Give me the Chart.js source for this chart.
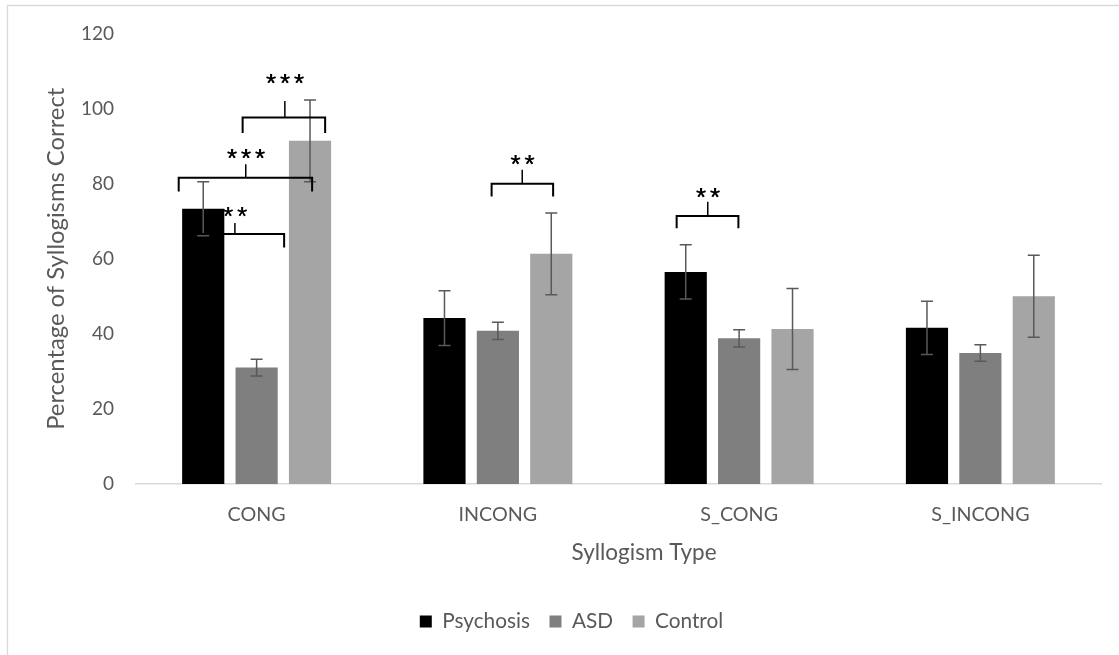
<!DOCTYPE html>
<html>
<head>
<meta charset="utf-8">
<script src="https://cdn.jsdelivr.net/npm/chart.js@4.4.1/dist/chart.umd.min.js"></script>
<style>
  html, body { margin: 0; padding: 0; background: #ffffff; }
  #wrap { position: relative; width: 1119px; height: 655px; }
</style>
</head>
<body>
<div id="wrap"><canvas id="c" width="1119" height="655"></canvas></div>
<script>
// ---- data ----
const categories = ['CONG', 'INCONG', 'S_CONG', 'S_INCONG'];
const seriesNames = ['Psychosis', 'ASD', 'Control'];
const psychosis = [73.3, 44.2, 56.5, 41.6];
const psychosisErr = [7.2, 7.3, 7.2, 7.1];
const asd = [31.0, 40.8, 38.8, 34.9];
const asdErr = [2.2, 2.3, 2.3, 2.2];
const control = [91.4, 61.3, 41.3, 50.0];
const controlErr = [10.9, 10.9, 10.8, 10.9];
const yTickValues = [0, 20, 40, 60, 80, 100, 120];
const xTitle = 'Syllogism Type';
const yTitle = 'Percentage of Syllogisms Correct';
// significance brackets: [category, leftOffset, rightOffset, stemOffset, barY, legY, stemTopY, labelY, label]
// offsets are in category-width units, y values in data units
const sigBrackets = [
  [0, -0.058, 0.284, 0.117, 97.6, 93.5, 102.0, 107.9, '***'],
  [0, -0.323, 0.230, -0.045, 81.6, 77.9, 85.2, 88.0, '***'],
  [0, -0.293, 0.114, -0.090, 66.6, 63.0, 69.5, 72.5, '**'],
  [1, -0.026, 0.229, 0.101, 80.0, 76.6, 83.7, 86.2, '**'],
  [2, -0.259, -0.003, -0.130, 71.4, 68.1, 75.2, 77.6, '**']
];

const errors = [psychosisErr, asdErr, controlErr];
const FONT = 'Lato';
const TXT = '#595959';

// pick font sizes so text widths match the reference
const mctx = document.createElement('canvas').getContext('2d');
function fitSize(text, target) {
  mctx.font = '100px ' + FONT;
  const w = mctx.measureText(text).width;
  return Math.round(100 * target / w * 10) / 10;
}
const yTitleSize = fitSize(yTitle, 342);
const xTitleSize = fitSize(xTitle, 145);
const tickSize = fitSize('120', 33);
const catSize = fitSize('S_CONG', 78);
const legendSize = fitSize('Psychosis', 88);

const frame = {
  id: 'frame',
  beforeDraw(chart) {
    const ctx = chart.ctx;
    ctx.save();
    ctx.fillStyle = '#ffffff';
    ctx.fillRect(0, 0, chart.width, chart.height);
    ctx.strokeStyle = '#d9d9d9';
    ctx.lineWidth = 1.3;
    ctx.beginPath();
    ctx.moveTo(7.5, chart.height);
    ctx.lineTo(7.5, 5.5);
    ctx.lineTo(chart.width, 5.5);
    ctx.stroke();
    ctx.restore();
  }
};

const xTitlePlugin = {
  id: 'xTitlePlugin',
  afterDraw(chart) {
    const ctx = chart.ctx;
    const xs = chart.scales.x;
    ctx.save();
    ctx.fillStyle = TXT;
    ctx.font = xTitleSize + 'px ' + FONT;
    ctx.textAlign = 'center';
    ctx.textBaseline = 'middle';
    // Excel places the axis title slightly right of the axis centre
    const cx = (xs.left + xs.right) / 2 + 0.106 * (xs.getPixelForValue(1) - xs.getPixelForValue(0));
    ctx.fillText(xTitle, cx, xs.top + 69);
    ctx.restore();
  }
};

const errBars = {
  id: 'errBars',
  afterDatasetsDraw(chart) {
    const ctx = chart.ctx;
    const y = chart.scales.y;
    ctx.save();
    ctx.strokeStyle = '#595959';
    ctx.lineWidth = 1.5;
    chart.data.datasets.forEach((ds, di) => {
      const meta = chart.getDatasetMeta(di);
      meta.data.forEach((bar, i) => {
        const v = ds.data[i], e = errors[di][i];
        const yt = y.getPixelForValue(v + e), yb = y.getPixelForValue(v - e);
        const x = bar.x;
        ctx.beginPath();
        ctx.moveTo(x, yt); ctx.lineTo(x, yb);
        ctx.moveTo(x - 6, yt); ctx.lineTo(x + 6, yt);
        ctx.moveTo(x - 6, yb); ctx.lineTo(x + 6, yb);
        ctx.stroke();
      });
    });
    ctx.restore();
  }
};

const brackets = {
  id: 'brackets',
  afterDatasetsDraw(chart) {
    const ctx = chart.ctx;
    const xs = chart.scales.x, y = chart.scales.y;
    const cw = xs.getPixelForValue(1) - xs.getPixelForValue(0);
    ctx.save();
    ctx.strokeStyle = '#000000';
    ctx.fillStyle = '#000000';
    sigBrackets.forEach(b => {
      const [cat, l, r, s, by, ly, sy, ty, lab] = b;
      const c = xs.getPixelForValue(cat);
      const xl = c + l * cw, xr = c + r * cw, xm = c + s * cw;
      const pb = y.getPixelForValue(by), pl = y.getPixelForValue(ly), ps = y.getPixelForValue(sy);
      ctx.lineWidth = 2;
      ctx.beginPath();
      ctx.moveTo(xl, pl); ctx.lineTo(xl, pb); ctx.lineTo(xr, pb); ctx.lineTo(xr, pl);
      ctx.stroke();
      ctx.lineWidth = 1.5;
      ctx.beginPath();
      ctx.moveTo(xm, pb); ctx.lineTo(xm, ps);
      ctx.stroke();
      ctx.font = '26px "Liberation Sans"';
      const m = ctx.measureText('*');
      const w = m.actualBoundingBoxRight + m.actualBoundingBoxLeft;
      const py = y.getPixelForValue(ty);
      const baseY = py + (m.actualBoundingBoxAscent - m.actualBoundingBoxDescent) / 2;
      const n = lab.length, step = 14;
      for (let k = 0; k < n; k++) {
        const cx = xm + (k - (n - 1) / 2) * step;
        ctx.fillText('*', cx - w / 2 + m.actualBoundingBoxLeft, baseY);
        ctx.fillText('*', cx - w / 2 + m.actualBoundingBoxLeft + 0.4, baseY);
      }
    });
    ctx.restore();
  }
};

const colors = ['#000000', '#7f7f7f', '#a5a5a5'];
const values = [psychosis, asd, control];

new Chart(document.getElementById('c'), {
  type: 'bar',
  data: {
    labels: categories,
    datasets: seriesNames.map((n, i) => ({
      label: n,
      data: values[i],
      backgroundColor: colors[i],
      borderWidth: 0,
      categoryPercentage: 0.664,
      barPercentage: 0.79
    }))
  },
  options: {
    responsive: false,
    animation: false,
    devicePixelRatio: 1,
    layout: { padding: { left: 42, right: 18, top: 33.5, bottom: 13 } },
    plugins: {
      tooltip: { enabled: false },
      legend: {
        position: 'bottom',
        align: 'center',
        labels: {
          boxWidth: 12,
          boxHeight: 12,
          padding: 19.5,
          color: TXT,
          font: { family: FONT, size: legendSize }
        }
      }
    },
    scales: {
      x: {
        grid: { display: false, drawTicks: false },
        border: { display: true, color: '#d9d9d9', width: 1.5 },
        ticks: { color: TXT, padding: 18.5, font: { family: FONT, size: catSize } },
        title: { display: false },
        afterFit(scale) { scale.height = 107.7; }
      },
      y: {
        min: 0, max: 120,
        afterBuildTicks(scale) { scale.ticks = yTickValues.map(v => ({ value: v })); },
        grid: { display: false, drawTicks: false },
        border: { display: false },
        ticks: { color: TXT, padding: 22, font: { family: FONT, size: tickSize } },
        title: { display: true, text: yTitle, color: TXT, font: { family: FONT, size: yTitleSize }, padding: { top: 0, bottom: 0 } },
        afterFit(scale) { scale.width = 94; }
      }
    }
  },
  plugins: [frame, errBars, brackets, xTitlePlugin]
});
</script>
</body>
</html>
